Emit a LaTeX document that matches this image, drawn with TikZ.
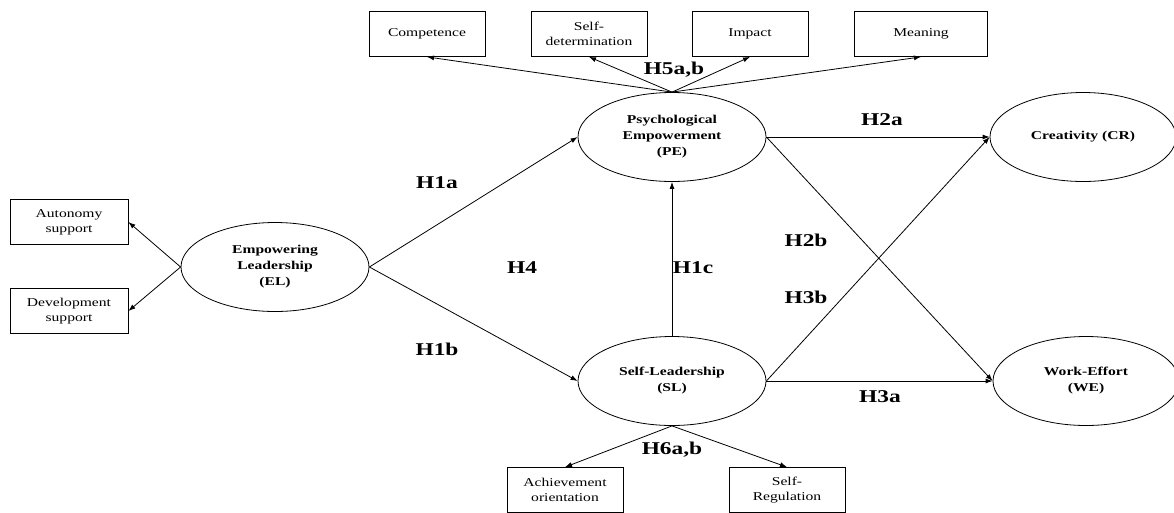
\documentclass[tikz,border=0pt]{standalone}
\usepackage{fontspec}
\setmainfont{Liberation Serif}[FakeStretch=1.3]
\usepackage{tikz}
\usetikzlibrary{shapes.geometric,arrows.meta}

\begin{document}
\begin{tikzpicture}[x=1pt, y=-1pt, line width=0.8pt, >={Latex[length=7pt,width=5pt]},
    latent/.style={draw, ellipse, minimum width=188pt, minimum height=89pt, inner sep=0pt, align=center, font=\bfseries\fontsize{12}{16}\selectfont},
    item/.style={draw, rectangle, minimum width=116pt, minimum height=45pt, inner sep=1pt, align=center, font=\fontsize{12}{15}\selectfont},
    hyp/.style={font=\bfseries\fontsize{18}{20}\selectfont}]
        \useasboundingbox (0,0) rectangle (1174,512);

        % latent constructs
        \node[latent] (0) at (275,267) {Empowering\\Leadership\\(EL)};
        \node[latent] (1) at (672,137) {Psychological\\Empowerment\\(PE)};
        \node[latent] (2) at (672,381) {Self-Leadership\\(SL)};
        \node[latent, minimum width=186pt] (3) at (1083,137) {Creativity (CR)};
        \node[latent, minimum width=186pt] (4) at (1086,381) {Work-Effort\\(WE)};

        % indicators
        \node[item, minimum width=118pt] (5) at (69,222) {Autonomy\\support};
        \node[item, minimum width=118pt] (6) at (69,311) {Development\\support};
        \node[item] (7) at (427,34) {Competence};
        \node[item] (8) at (589,34) {Self-\\determination};
        \node[item] (9) at (750,34) {Impact};
        \node[item, minimum width=133pt] (10) at (921,34) {Meaning};
        \node[item] (11) at (565,490) {Achievement\\orientation};
        \node[item] (12) at (787,490) {Self-\\Regulation};

        \draw[->] (0.west) -- (5.east);
        \draw[->] (0.west) -- (6.east);
        \draw[->] (1.north) -- (7.south);
        \draw[->] (1.north) -- (8.south);
        \draw[->] (1.north) -- (9.south);
        \draw[->] (1.north) -- (10.south);
        \draw[->] (2.south) -- (11.north);
        \draw[->] (2.south) -- (12.north);
        \draw[->] (0.east) -- (1.west);
        \draw[->] (0.east) -- (2.west);
        \draw[->] (2.north) -- (1.south);
        \draw[->] (1.east) -- (3.west);
        \draw[->] (1.east) -- (4.west);
        \draw[->] (2.east) -- (3.west);
        \draw[->] (2.east) -- (4.west);

        % hypotheses
        \node[hyp] (h5) at (674,70) {H5a,b};
        \node[hyp] (h1a) at (437,183) {H1a};
        \node[hyp] (h1b) at (437,349) {H1b};
        \node[hyp] (h4) at (522,268) {H4};
        \node[hyp] (h1c) at (693,268) {H1c};
        \node[hyp] (h2a) at (882,120) {H2a};
        \node[hyp] (h2b) at (806,240) {H2b};
        \node[hyp] (h3b) at (806,297) {H3b};
        \node[hyp] (h3a) at (880,397) {H3a};
        \node[hyp] (h6) at (672,450) {H6a,b};
    \end{tikzpicture}
\end{document}
